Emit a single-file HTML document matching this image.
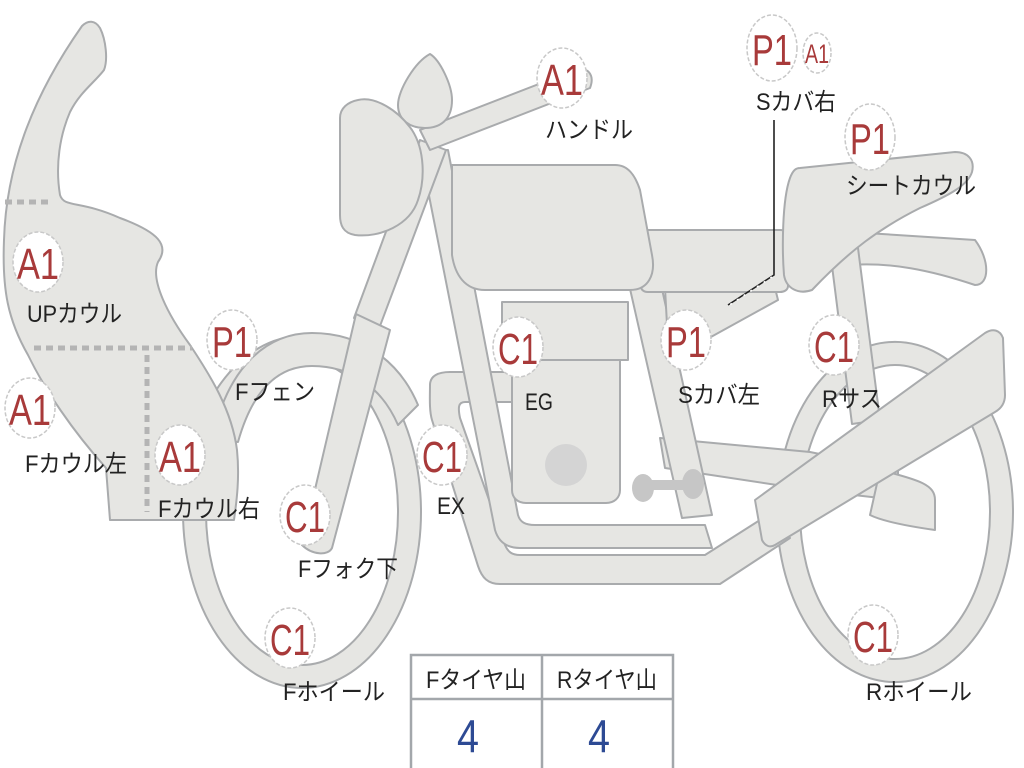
<!DOCTYPE html>
<html><head><meta charset="utf-8"><style>
html,body{margin:0;padding:0;background:#fff;width:1024px;height:768px;overflow:hidden}
svg{display:block}
.s{fill:#e6e6e3;stroke:#a9abad;stroke-width:2;stroke-linejoin:round}
.b{fill:#fff;stroke:#c8c8c8;stroke-width:1.5;stroke-dasharray:4 2}
.bt{fill:#a83a3a;font-family:"Liberation Sans",sans-serif;font-size:44px;text-anchor:middle}
.lb{fill:#222;font-family:"Liberation Sans","Noto Sans CJK JP",sans-serif;font-size:24px}
</style></head><body>
<svg width="1024" height="768" viewBox="0 0 1024 768" xmlns="http://www.w3.org/2000/svg">
<path class="s" fill-rule="evenodd" d="M777,512 a118,170 0 1,0 236,0 a118,170 0 1,0 -236,0 Z M800,512 a95,147 0 1,0 190,0 a95,147 0 1,0 -190,0 Z"/>
<path class="s" fill-rule="evenodd" d="M183,512 a119,176 0 1,0 238,0 a119,176 0 1,0 -238,0 Z M206,512 a96,153 0 1,0 192,0 a96,153 0 1,0 -192,0 Z"/>
<path class="s" d="M212,440 C228,365 268,333 312,333 C362,333 400,362 418,405 L398,425 C382,388 352,366 312,366 C276,366 252,392 238,442 Z"/>
<path class="s" d="M850,232 L975,240 C990,260 990,285 975,285 C930,270 890,262 850,265 Z"/>
<path class="s" d="M830,250 L858,248 L880,420 L852,424 Z"/>
<path class="s" d="M430,385 C430,376 438,372 450,372 L520,372 L520,402 L465,402 C458,402 458,408 460,418 L505,545 C508,552 512,555 520,555 L705,555 L760,520 L790,538 L720,584 L500,584 C488,584 482,578 478,566 L432,420 C429,410 430,395 430,385 Z"/>
<path class="s" d="M660,438 L810,452 L898,470 L898,500 L810,490 L665,468 Z"/>
<path class="s" d="M880,470 C920,480 935,485 935,500 L935,530 C900,525 880,520 870,515 Z"/>
<path class="s" d="M420,150 L448,150 L518,515 C520,522 525,525 535,525 L705,525 L712,548 L520,548 C505,548 498,540 495,530 Z"/>
<path class="s" d="M628,280 L660,280 L712,515 L682,518 Z"/>
<path class="s" d="M512,360 L620,360 L620,490 C620,498 614,503 606,503 L526,503 C518,503 512,498 512,490 Z"/>
<circle cx="566" cy="465" r="21" fill="#d4d4d4"/>
<path class="s" d="M502,302 L628,302 L628,360 L502,360 Z"/>
<g fill="#c6c6c6"><ellipse cx="643" cy="488" rx="11" ry="14"/><ellipse cx="693" cy="484" rx="11" ry="15"/><rect x="643" y="480" width="50" height="10"/></g>
<path class="s" d="M665,288 L775,288 L778,300 L700,343 L668,343 Z"/>
<path class="s" d="M645,230 L780,230 C786,230 788,234 788,240 L788,286 C788,290 784,292 780,292 L648,292 C642,292 640,288 640,282 L640,236 C640,232 642,230 645,230 Z"/>
<path class="s" d="M800,168 L955,152 C968,152 975,160 972,172 C968,185 950,195 920,208 C880,228 850,250 812,290 C798,295 786,288 784,275 C782,250 782,200 790,178 C793,170 796,168 800,168 Z"/>
<path class="s" d="M452,165 L615,165 C628,165 635,175 640,190 L652,255 C656,275 648,290 630,290 L485,290 C465,290 455,275 452,255 Z"/>
<path class="s" d="M420,140 L446,150 L380,326 L354,318 Z"/>
<path class="s" d="M356,314 L390,330 L332,548 C328,556 312,555 302,545 Z"/>
<path class="s" d="M420,130 L575,70 C588,66 595,75 590,88 L430,150 Z"/>
<path class="s" d="M430,54 C440,60 452,85 452,100 C452,120 440,128 425,128 C410,128 398,120 398,105 C398,90 415,62 430,54 Z"/>
<path class="s" d="M358,100 C375,96 398,110 412,130 C425,150 425,180 418,200 C410,225 380,238 355,235 C343,233 340,225 340,215 L340,118 C340,108 348,102 358,100 Z"/>
<path class="s" d="M755,500 L985,333 C993,328 1000,330 1003,338 L1005,395 C1005,402 1002,408 995,412 L775,545 C770,548 765,546 762,540 Z"/>
<path class="s" d="M82,26 C88,20 95,20 100,28 C106,40 108,60 104,70 C95,82 80,92 70,112 C60,135 55,165 60,195 C64,208 80,200 120,218 C158,232 170,245 158,262 C150,280 168,315 190,345 C210,375 232,410 237,450 C240,480 236,505 234,520 L110,520 L106,468 C72,430 45,390 28,355 C8,320 2,290 4,240 C6,170 30,100 82,26 Z"/>
<g stroke="#b4b4b4" stroke-width="5" stroke-dasharray="7 5">
<line x1="5" y1="202" x2="50" y2="202"/>
<line x1="34" y1="348" x2="192" y2="348"/>
<line x1="147" y1="355" x2="147" y2="512"/>
</g>
<polyline points="774,120 774,275 728,305" fill="none" stroke="#222" stroke-width="1.6"/>
<line x1="772" y1="277" x2="728" y2="306" stroke="#fff" stroke-width="1.6" stroke-dasharray="2 6"/>
<g fill="#fff" stroke="#a3a7ab" stroke-width="2.5">
<rect x="411" y="655" width="262" height="116"/>
<line x1="411" y1="699" x2="673" y2="699"/>
<line x1="542" y1="655" x2="542" y2="770"/>
</g>
<g class="lb" text-anchor="middle">
<text x="476" y="688" textLength="100" lengthAdjust="spacingAndGlyphs">Fタイヤ山</text>
<text x="607" y="688" textLength="100" lengthAdjust="spacingAndGlyphs">Rタイヤ山</text>
</g>
<g fill="#2d4a94" font-family="Liberation Sans,sans-serif" font-size="46" text-anchor="middle">
<text x="468" y="752" textLength="22" lengthAdjust="spacingAndGlyphs">4</text><text x="599" y="752" textLength="22" lengthAdjust="spacingAndGlyphs">4</text>
</g>
<g>
<ellipse class="b" cx="38" cy="262" rx="25" ry="30"/><text class="bt" x="38" y="279" textLength="42" lengthAdjust="spacingAndGlyphs">A1</text>
<ellipse class="b" cx="232" cy="340" rx="25" ry="30"/><text class="bt" x="232" y="357" textLength="40" lengthAdjust="spacingAndGlyphs">P1</text>
<ellipse class="b" cx="30" cy="408" rx="25" ry="30"/><text class="bt" x="30" y="425" textLength="42" lengthAdjust="spacingAndGlyphs">A1</text>
<ellipse class="b" cx="180" cy="455" rx="25" ry="30"/><text class="bt" x="180" y="472" textLength="42" lengthAdjust="spacingAndGlyphs">A1</text>
<ellipse class="b" cx="305" cy="515" rx="25" ry="30"/><text class="bt" x="305" y="532" textLength="40" lengthAdjust="spacingAndGlyphs">C1</text>
<ellipse class="b" cx="290" cy="638" rx="25" ry="30"/><text class="bt" x="290" y="655" textLength="40" lengthAdjust="spacingAndGlyphs">C1</text>
<ellipse class="b" cx="518" cy="347" rx="25" ry="30"/><text class="bt" x="518" y="364" textLength="40" lengthAdjust="spacingAndGlyphs">C1</text>
<ellipse class="b" cx="442" cy="455" rx="25" ry="30"/><text class="bt" x="442" y="472" textLength="40" lengthAdjust="spacingAndGlyphs">C1</text>
<ellipse class="b" cx="562" cy="78" rx="25" ry="30"/><text class="bt" x="562" y="95" textLength="42" lengthAdjust="spacingAndGlyphs">A1</text>
<ellipse class="b" cx="772" cy="48" rx="25" ry="33"/><text class="bt" x="772" y="65" textLength="40" lengthAdjust="spacingAndGlyphs">P1</text>
<ellipse class="b" cx="817" cy="53" rx="14" ry="20"/><text class="bt" x="817" y="63" style="font-size:27px" textLength="24" lengthAdjust="spacingAndGlyphs">A1</text>
<ellipse class="b" cx="870" cy="137" rx="25" ry="33"/><text class="bt" x="870" y="154" textLength="40" lengthAdjust="spacingAndGlyphs">P1</text>
<ellipse class="b" cx="686" cy="340" rx="25" ry="30"/><text class="bt" x="686" y="357" textLength="40" lengthAdjust="spacingAndGlyphs">P1</text>
<ellipse class="b" cx="834" cy="345" rx="25" ry="30"/><text class="bt" x="834" y="362" textLength="40" lengthAdjust="spacingAndGlyphs">C1</text>
<ellipse class="b" cx="873" cy="635" rx="25" ry="30"/><text class="bt" x="873" y="652" textLength="40" lengthAdjust="spacingAndGlyphs">C1</text>
</g>
<g class="lb">
<text x="27" y="322" textLength="95" lengthAdjust="spacingAndGlyphs">UPカウル</text>
<text x="235" y="400" textLength="80" lengthAdjust="spacingAndGlyphs">Fフェン</text>
<text x="25" y="472" textLength="102" lengthAdjust="spacingAndGlyphs">Fカウル左</text>
<text x="158" y="517" textLength="102" lengthAdjust="spacingAndGlyphs">Fカウル右</text>
<text x="298" y="577" textLength="100" lengthAdjust="spacingAndGlyphs">Fフォク下</text>
<text x="283" y="700" textLength="102" lengthAdjust="spacingAndGlyphs">Fホイール</text>
<text x="525" y="410" textLength="28" lengthAdjust="spacingAndGlyphs">EG</text>
<text x="437" y="514" textLength="28" lengthAdjust="spacingAndGlyphs">EX</text>
<text x="545" y="138" textLength="88" lengthAdjust="spacingAndGlyphs">ハンドル</text>
<text x="756" y="110" textLength="80" lengthAdjust="spacingAndGlyphs">Sカバ右</text>
<text x="846" y="194" textLength="130" lengthAdjust="spacingAndGlyphs">シートカウル</text>
<text x="678" y="403" textLength="82" lengthAdjust="spacingAndGlyphs">Sカバ左</text>
<text x="822" y="407" textLength="60" lengthAdjust="spacingAndGlyphs">Rサス</text>
<text x="866" y="700" textLength="106" lengthAdjust="spacingAndGlyphs">Rホイール</text>
</g>
</svg>
</body></html>
